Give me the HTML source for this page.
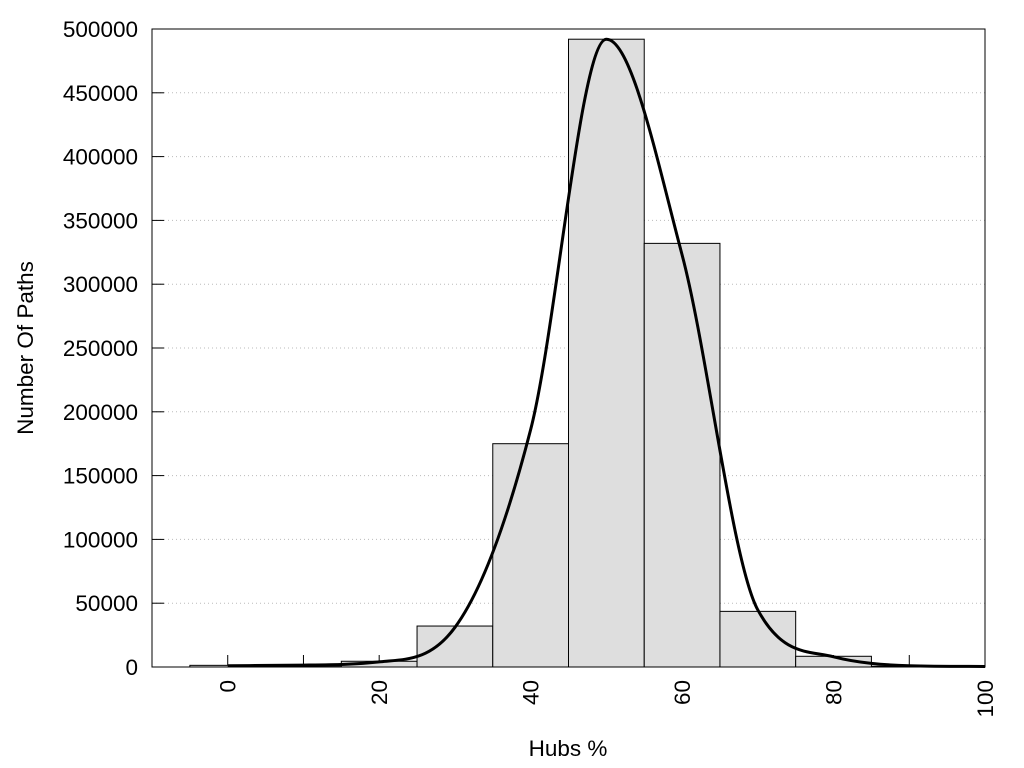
<!DOCTYPE html>
<html><head><meta charset="utf-8"><style>
html,body{margin:0;padding:0;background:#fff;width:1024px;height:768px;overflow:hidden}
svg text{font-family:"Liberation Sans",sans-serif;font-size:22.5px;fill:#000}
</style></head><body>
<svg id="chart" width="1024" height="768" xmlns="http://www.w3.org/2000/svg"></svg>
<script>
const binCenters=[0,10,20,30,40,50,60,70,80,90];
const binCounts=[1300,300,4500,32100,175000,492000,332000,43600,8400,600];
const curveX=[0,10,20,30,40,50,60,70,80,90,100];
const curveY=[1000,1500,4000,31000,186000,492000,323000,44700,8000,1000,400];
const yTicks=[0,50000,100000,150000,200000,250000,300000,350000,400000,450000,500000];
const xTicks=[0,10,20,30,40,50,60,70,80,90,100];
const xLabels=[0,20,40,60,80,100];

const L=152,R=985,T=29,B=667;
const xMin=-10,xMax=100,yMax=500000;
const sx=v=>L+(v-xMin)/(xMax-xMin)*(R-L);
const sy=v=>B-v/yMax*(B-T);
const svg=document.getElementById('chart');
const NS='http://www.w3.org/2000/svg';
function mk(tag,attrs,parent){const e=document.createElementNS(NS,tag);for(const k in attrs)e.setAttribute(k,attrs[k]);(parent||svg).appendChild(e);return e;}

yTicks.forEach(v=>{if(v>0&&v<yMax){const g=mk('line',{x1:L,x2:R,y1:sy(v),y2:sy(v),stroke:'#bbb','stroke-width':1,'stroke-dasharray':'1,3'});

}});
xTicks.forEach(v=>{const t=mk('line',{x1:sx(v),x2:sx(v),y1:B,y2:B-12,stroke:'#000','stroke-width':1});

});
binCenters.forEach((c,i)=>{const r=mk('rect',{x:sx(c-5),y:sy(binCounts[i]),width:sx(c+5)-sx(c-5),height:B-sy(binCounts[i]),fill:'#dedede',stroke:'#000','stroke-width':1});

});
yTicks.forEach(v=>{const t=mk('line',{x1:L,x2:L+12,y1:sy(v),y2:sy(v),stroke:'#000','stroke-width':1});


const tx=mk('text',{x:138,y:sy(v)+8,'text-anchor':'end'});tx.textContent=v;

});
xLabels.forEach(v=>{const tx=mk('text',{x:0,y:0,'text-anchor':'end',transform:`translate(${sx(v)+8},680) rotate(-90)`});tx.textContent=v;

});
// monotone cubic curve
const P=curveX.map((x,i)=>[sx(x),sy(curveY[i])]);
const n=P.length,dk=[],m=[];
for(let i=0;i<n-1;i++)dk.push((P[i+1][1]-P[i][1])/(P[i+1][0]-P[i][0]));
for(let i=0;i<n;i++){if(i==0)m.push(dk[0]);else if(i==n-1)m.push(dk[n-2]);else m.push(dk[i-1]*dk[i]<=0?0:(dk[i-1]+dk[i])/2);}
for(let i=0;i<n-1;i++){if(dk[i]==0){m[i]=m[i+1]=0;continue;}const a=m[i]/dk[i],b=m[i+1]/dk[i],s=a*a+b*b;if(s>9){const t=3/Math.sqrt(s);m[i]=t*a*dk[i];m[i+1]=t*b*dk[i];}}
let d=`M${P[0][0]},${P[0][1]}`;
for(let i=0;i<n-1;i++){const h=(P[i+1][0]-P[i][0])/3;
d+=` C${P[i][0]+h},${P[i][1]+m[i]*h} ${P[i+1][0]-h},${P[i+1][1]-m[i+1]*h} ${P[i+1][0]},${P[i+1][1]}`;}
const cv=mk('path',{d:d,fill:'none',stroke:'#000','stroke-width':3});


const fr=mk('rect',{x:L,y:T,width:R-L,height:B-T,fill:'none',stroke:'#000','stroke-width':1});


const xt=mk('text',{x:568,y:756,'text-anchor':'middle'});xt.textContent='Hubs %';


const yt=mk('text',{x:0,y:0,'text-anchor':'middle',transform:'translate(33,348) rotate(-90)'});yt.textContent='Number Of Paths';


</script>
</body></html>
